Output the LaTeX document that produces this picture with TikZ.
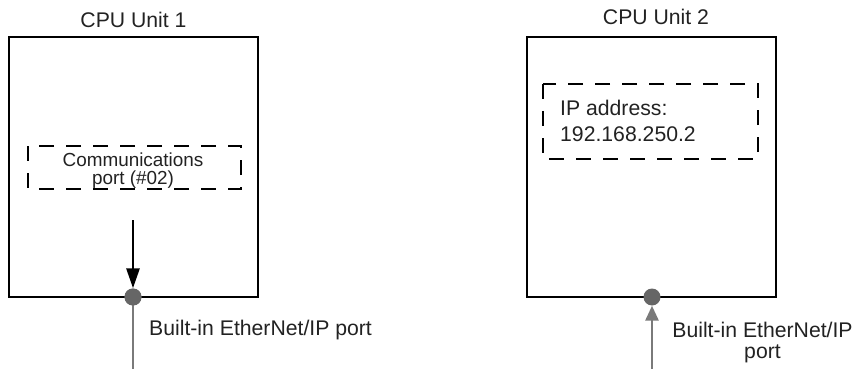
\documentclass[tikz,border=0pt]{standalone}
\usepackage{fontspec}
\setmainfont{Liberation Sans}
\usetikzlibrary{arrows.meta}
\definecolor{portgray}{HTML}{666666}
\definecolor{linegray}{HTML}{7A7A7A}
\definecolor{textgray}{HTML}{222222}
\begin{document}
\begin{tikzpicture}[x=1pt,y=-1pt,
  unitbox/.style={draw=black,line width=2.8pt},
  dashbox/.style={draw=black,line width=2.8pt,dash pattern=on 15pt off 12pt},
  lbl/.style={font=\fontsize{21.2}{21}\selectfont,inner sep=0pt,text=textgray},
  small/.style={font=\fontsize{18.9}{18.5}\selectfont,inner sep=0pt,text=textgray},
  portdot/.style={circle,fill=portgray,inner sep=0pt,minimum size=17pt},
  sig/.style={line width=2.8pt,-{Triangle[length=20pt,width=13pt]}},
  gsig/.style={line width=2.8pt,linegray,-{Triangle[length=15pt,width=13pt]}},
]
\useasboundingbox (0,0) rectangle (855,369);
% Unit 1
\draw[unitbox] (9,37) rectangle (258,297);
\node[lbl,anchor=base] (t1) at (133.5,28) {CPU Unit 1};
\draw[dashbox] (28,146) rectangle (241,189);
\node[small,anchor=base] (comm) at (133,166) {Communications};
\node[small,anchor=base] (comm2) at (133,184) {port (\#02)};
\node[portdot] (p1) at (133,297) {};
\coordinate (a1) at (133,220);
\coordinate (e1) at (133,369);
\draw[line width=2.8pt,linegray] (p1.center) -- (e1);
\draw[sig] (a1) -- (p1.north);
\node[portdot] at (133,297) {};
\node[lbl,anchor=base west] (l1) at (149,335) {Built-in EtherNet/IP port};
% Unit 2
\draw[unitbox] (527,37) rectangle (776,297);
\node[lbl,anchor=base] (t2) at (656,25) {CPU Unit 2};
\draw[dashbox] (543,84) rectangle (758,159);
\node[lbl,anchor=base west] (ip) at (560,115) {IP address:};
\node[lbl,anchor=base west] (ip2) at (560,142) {192.168.250.2};
\node[portdot] (p2) at (652,297) {};
\coordinate (e2) at (652,369);
\draw[gsig] (e2) -- (p2.south);
\node[lbl,anchor=base] (l2) at (762.5,337) {Built-in EtherNet/IP};
\node[lbl,anchor=base] (l2b) at (762.5,358) {port};
\end{tikzpicture}
\end{document}
